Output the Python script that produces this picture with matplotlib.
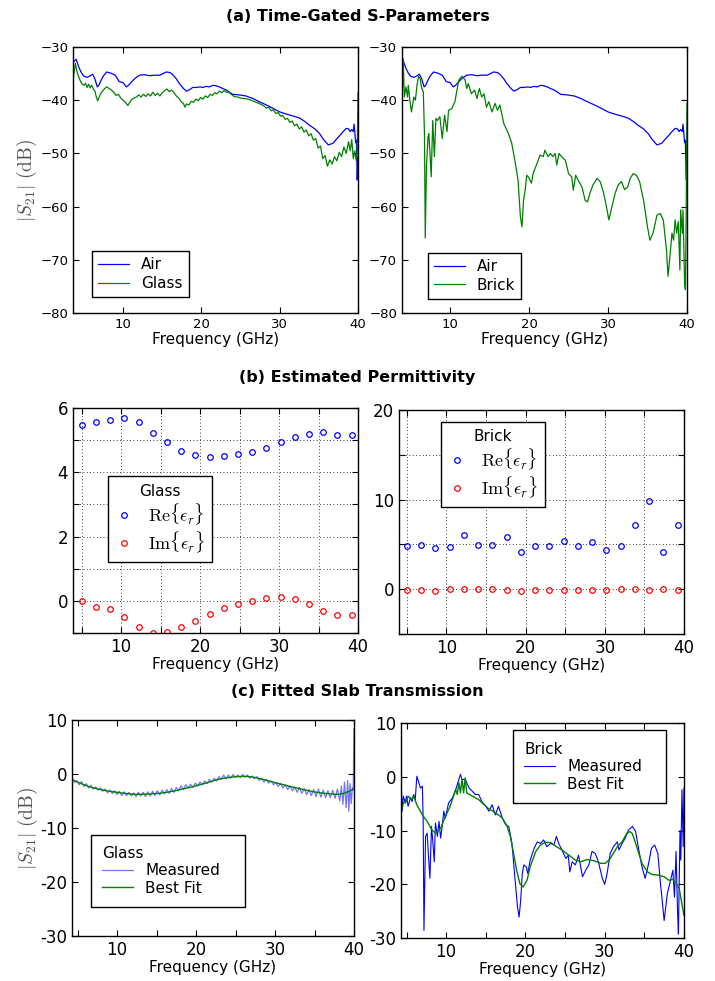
import matplotlib
matplotlib.use("Agg")
import matplotlib.pyplot as plt

plt.rcParams['font.family'] = ['DejaVu Sans']
plt.rcParams['mathtext.fontset'] = 'cm'
plt.rcParams['xtick.direction'] = 'in'
plt.rcParams['ytick.direction'] = 'in'
plt.rcParams['xtick.top'] = True
plt.rcParams['ytick.right'] = True

# ---------------- (a) Time-gated S-parameters ----------------
air_f = [3.6, 3.8, 4.0, 4.2, 4.4, 4.7, 5.0, 5.4, 5.7, 6.1, 6.4, 6.7, 6.9, 7.2, 7.5, 7.9, 8.4,
         9.0, 9.5, 10.0, 10.4, 10.7, 11.1, 11.6, 12.1, 12.7, 13.4, 14.0, 14.7, 15.1, 15.5,
         16.0, 16.4, 16.8, 17.2, 17.7, 18.1, 18.5, 18.9, 19.4, 19.8, 20.2, 20.6, 21.0,
         21.5, 21.9, 22.3, 22.7, 23.2, 23.6, 24.0, 24.8, 25.7, 26.6, 27.4, 28.3, 29.1,
         30.0, 30.6, 31.3, 32.0, 32.6, 33.2, 33.8, 34.5, 35.1, 35.6, 36.2, 36.8, 37.2,
         37.7, 38.1, 38.5, 38.8, 39.0, 39.2, 39.4, 39.5, 39.6, 39.7, 39.8, 39.9, 40.0]
air_db = [-33.0, -32.6, -32.3, -33.2, -34.0, -34.9, -35.5, -35.7, -35.5, -35.1, -36.0, -37.5,
          -37.2, -36.2, -35.4, -34.7, -34.9, -35.3, -36.5, -36.7, -37.5, -37.2, -36.5, -35.8,
          -35.3, -35.2, -35.4, -35.3, -35.3, -35.0, -34.7, -34.8, -35.3, -36.0, -36.9, -37.8,
          -38.3, -38.0, -37.6, -37.6, -37.5, -37.6, -37.4, -37.5, -37.2, -37.3, -37.5, -37.8,
          -38.1, -38.5, -38.9, -39.0, -39.2, -39.7, -40.3, -40.9, -41.5, -42.2, -42.5, -42.8,
          -43.1, -43.4, -44.0, -44.7, -45.4, -46.3, -47.4, -48.4, -48.1, -47.4, -46.6, -45.9,
          -45.3, -45.4, -45.9, -45.5, -45.9, -44.5, -46.2, -48.0, -47.5, -55.0, -50.6]

glass_f = [3.6, 3.75, 3.9, 4.1, 4.4, 4.7, 5.0, 5.2, 5.4, 5.6, 5.8, 6.0, 6.2, 6.4, 6.6, 6.75,
           6.9, 7.1, 7.3, 7.6, 7.9, 8.2, 8.5, 8.8, 9.1, 9.4, 9.7, 10.0, 10.3, 10.6, 10.8,
           11.1, 11.4, 11.7, 12.0, 12.3, 12.6, 12.9, 13.2, 13.5, 13.8, 14.1, 14.4, 14.7,
           15.0, 15.3, 15.6, 15.9, 16.2, 16.5, 16.8, 17.1, 17.4, 17.7, 17.9, 18.1, 18.4,
           18.7, 19.0, 19.3, 19.6, 19.9, 20.2, 20.5, 20.8, 21.1, 21.4, 21.7, 22.0, 22.3,
           22.6, 22.9, 23.2, 23.5, 23.8, 24.2, 24.6, 25.0, 25.5, 26.0, 26.5, 27.0, 27.5,
           28.0, 28.3, 28.6, 28.9, 29.2, 29.5, 29.8, 30.1, 30.4, 30.7, 31.0, 31.3, 31.6,
           31.9, 32.2, 32.5, 32.8, 33.1, 33.4, 33.7, 34.0, 34.3, 34.6, 34.9, 35.2, 35.5,
           35.8, 36.1, 36.4, 36.7, 37.0, 37.3, 37.6, 37.9, 38.2, 38.5, 38.8, 39.0, 39.2,
           39.4, 39.6, 39.75, 39.9, 40.0]
glass_db = [-36.6, -34.5, -33.1, -34.6, -35.9, -36.9, -37.2, -36.8, -37.6, -37.0, -37.7,
            -37.2, -37.9, -38.3, -39.5, -40.1, -39.6, -38.8, -38.4, -37.9, -37.5, -37.8,
            -38.1, -38.5, -39.1, -38.9, -39.6, -40.0, -40.4, -41.0, -40.5, -39.9, -39.6,
            -39.4, -39.0, -39.4, -38.9, -39.3, -38.8, -39.2, -38.5, -39.1, -38.7, -39.2,
            -38.6, -38.2, -37.9, -38.4, -38.1, -38.6, -39.2, -39.6, -40.2, -40.6, -41.3,
            -40.7, -40.9, -40.2, -40.4, -39.8, -40.1, -39.5, -39.8, -39.2, -39.5, -38.9,
            -39.1, -38.6, -38.8, -38.3, -38.6, -38.2, -38.5, -38.5, -38.9, -39.3, -39.4,
            -39.6, -39.7, -39.8, -40.1, -40.4, -40.7, -41.1, -41.5, -41.3, -42.0, -41.8,
            -42.5, -42.3, -43.0, -42.9, -43.6, -43.4, -44.2, -43.9, -44.8, -44.5, -45.4,
            -45.0, -46.0, -45.6, -46.7, -46.3, -47.5, -47.2, -49.0, -48.6, -51.0, -50.4,
            -52.4, -51.2, -52.0, -50.6, -51.4, -49.8, -50.6, -48.8, -50.0, -47.8, -49.5,
            -47.4, -51.0, -49.5, -51.3, -50.0, -38.5]

brick_f = [3.95, 4.05, 4.2, 4.4, 4.6, 4.7, 4.9, 5.1, 5.4, 5.6, 5.8, 6.0, 6.2, 6.4, 6.6,
           6.75, 6.85, 7.0, 7.2, 7.3, 7.45, 7.6, 7.8, 8.0, 8.2, 8.4, 8.7, 9.0, 9.3, 9.6,
           9.8, 10.2, 10.6, 11.1, 11.5, 11.9, 12.1, 12.3, 12.7, 13.1, 13.4, 13.7, 14.0,
           14.3, 14.6, 14.9, 15.3, 15.7, 16.0, 16.3, 16.8, 17.4, 17.8, 18.2, 18.6, 18.9,
           19.1, 19.3, 19.5, 19.7, 19.9, 20.3, 20.5, 21.0, 21.4, 21.8, 22.0, 22.4, 22.7,
           23.0, 23.3, 23.5, 23.8, 24.1, 24.6, 25.0, 25.4, 25.6, 25.9, 26.2, 26.7, 27.1,
           27.4, 27.7, 28.1, 28.6, 29.0, 29.4, 29.8, 30.1, 30.5, 30.9, 31.3, 31.7, 32.1,
           32.5, 32.8, 33.2, 33.6, 34.0, 34.5, 35.0, 35.3, 35.7, 36.2, 36.6, 37.0, 37.4,
           37.6, 37.8, 38.1, 38.3, 38.5, 38.7, 38.9, 39.1, 39.2, 39.4, 39.5, 39.7, 39.8,
           39.9, 40.0]
brick_db = [-38.8, -32.2, -39.4, -37.5, -39.4, -37.2, -40.0, -42.2, -39.4, -40.0, -37.2,
            -35.5, -35.9, -37.8, -38.4, -46.3, -65.9, -52.5, -46.9, -46.3, -50.0, -54.4,
            -43.8, -50.6, -43.4, -43.8, -43.1, -47.2, -42.8, -45.9, -41.9, -41.6, -40.3,
            -36.2, -35.5, -36.2, -37.8, -36.9, -38.8, -38.1, -39.7, -37.8, -39.4, -38.8,
            -41.3, -40.3, -42.2, -40.6, -41.9, -40.9, -44.4, -46.3, -48.1, -51.3, -55.0,
            -61.9, -63.8, -58.8, -56.9, -54.1, -54.4, -55.6, -53.8, -51.9, -50.3, -50.6,
            -49.4, -50.6, -50.0, -50.6, -50.0, -52.2, -50.0, -50.6, -51.3, -53.8, -54.4,
            -56.9, -54.1, -55.0, -56.3, -58.8, -59.1, -57.5, -55.9, -54.7, -55.3, -57.2,
            -60.0, -62.5, -60.0, -57.5, -55.9, -55.3, -56.8, -56.3, -54.7, -53.8, -54.1,
            -55.3, -58.8, -63.8, -66.3, -65.0, -61.6, -61.3, -62.5, -68.1, -73.1, -70.0,
            -65.0, -66.3, -62.5, -65.0, -62.8, -71.9, -60.6, -65.0, -60.6, -74.4, -75.6,
            -61.9, -40.6]

# ---------------- (b) Estimated permittivity ----------------
perm_f = [5.0, 6.8, 8.6, 10.4, 12.2, 14.0, 15.8, 17.6, 19.4, 21.2, 23.0, 24.8, 26.6,
          28.4, 30.2, 32.0, 33.8, 35.6, 37.4, 39.2]
glass_re = [5.48, 5.58, 5.63, 5.69, 5.58, 5.22, 4.93, 4.67, 4.55, 4.47, 4.51, 4.56, 4.63,
            4.76, 4.93, 5.10, 5.19, 5.26, 5.15, 5.17]
glass_im = [0.00, -0.18, -0.26, -0.50, -0.81, -0.99, -0.96, -0.81, -0.61, -0.42, -0.23,
            -0.10, 0.00, 0.08, 0.13, 0.07, -0.10, -0.31, -0.44, -0.44]
brick_re = [4.81, 4.93, 4.63, 4.70, 6.00, 4.89, 4.89, 5.78, 4.19, 4.78, 4.81, 5.41, 4.81,
            5.30, 4.37, 4.78, 7.15, 9.85, 4.11, 7.19]
brick_im = [-0.11, -0.11, -0.22, 0.00, 0.07, 0.04, 0.00, -0.04, -0.15, -0.04, -0.04,
            -0.04, -0.07, -0.04, -0.04, 0.00, 0.00, -0.04, 0.00, -0.04]

# ---------------- (c) Fitted slab transmission ----------------
gm_f = [4.3, 4.6, 4.9, 5.2, 5.5, 5.8, 6.1, 6.4, 6.7, 7.0, 7.3, 7.6, 7.9, 8.2, 8.5, 8.8, 9.1,
        9.4, 9.7, 10.0, 10.3, 10.6, 10.9, 11.2, 11.5, 11.8, 12.1, 12.4, 12.7, 13.0, 13.3,
        13.6, 13.9, 14.2, 14.5, 14.8, 15.1, 15.4, 15.7, 16.0, 16.3, 16.6, 16.9, 17.2,
        17.5, 17.8, 18.1, 18.4, 18.7, 19.0, 19.3, 19.6, 19.9, 20.2, 20.5, 20.8, 21.1,
        21.4, 21.7, 22.0, 22.3, 22.6, 22.9, 23.2, 23.5, 23.8, 24.1, 24.4, 24.7, 25.0,
        25.3, 25.6, 25.9, 26.2, 26.5, 26.8, 27.1, 27.4, 27.7, 28.0, 28.3, 28.6, 28.9,
        29.2, 29.5, 29.8, 30.1, 30.4, 30.7, 31.0, 31.3, 31.6, 31.9, 32.2, 32.5, 32.8,
        33.1, 33.4, 33.7, 34.0, 34.3, 34.6, 34.9, 35.2, 35.5, 35.8, 36.1, 36.4, 36.7,
        37.0, 37.3, 37.6, 37.9, 38.2, 38.4, 38.6, 38.8, 39.0, 39.2, 39.35, 39.5, 39.65,
        39.8, 39.9, 40.0]
gm_db = [-0.6, -1.6, -1.2, -2.0, -1.4, -2.3, -1.8, -2.6, -2.1, -2.8, -2.4, -3.0, -2.6,
         -3.2, -2.8, -3.5, -3.0, -3.6, -3.1, -3.8, -3.2, -4.0, -3.3, -4.0, -3.4, -4.1,
         -3.5, -4.2, -3.4, -4.1, -3.4, -4.2, -3.3, -4.1, -3.2, -4.0, -3.1, -3.9, -3.0,
         -3.7, -2.9, -3.6, -2.7, -3.4, -2.5, -3.1, -2.2, -2.9, -2.0, -2.6, -1.9, -2.5,
         -1.7, -2.2, -1.5, -2.0, -1.3, -1.8, -1.0, -1.5, -0.8, -1.3, -0.5, -1.0, -0.2,
         -0.9, -0.2, -0.8, -0.1, -0.6, -0.2, -0.7, -0.1, -0.6, -0.2, -0.8, -0.4, -0.9,
         -0.5, -1.2, -0.8, -1.5, -1.0, -1.7, -1.3, -2.0, -1.6, -2.3, -1.8, -2.6, -2.0,
         -2.9, -2.2, -3.1, -2.4, -3.4, -2.5, -3.6, -2.7, -3.8, -2.9, -4.0, -2.9, -4.2,
         -2.8, -4.3, -3.0, -4.4, -3.1, -4.4, -3.0, -4.5, -2.8, -5.0, -2.2, -5.6, -1.5,
         -6.2, -1.2, -6.9, -1.8, -5.5, -2.5, -3.0, 8.4]
gf_f = [4.3, 5.0, 5.8, 6.8, 7.9, 9.0, 10.0, 11.0, 12.1, 13.1, 14.2, 15.2, 16.3, 17.4,
        18.4, 19.5, 20.5, 21.6, 22.6, 23.7, 24.7, 25.4, 26.0, 26.7, 27.3, 28.1, 29.0,
        30.0, 31.1, 32.1, 33.2, 34.2, 35.3, 36.3, 37.4, 38.0, 38.7, 39.4, 40.0]
gf_db = [-1.06, -1.5, -2.0, -2.5, -2.9, -3.2, -3.4, -3.6, -3.75, -3.78, -3.7, -3.6, -3.4,
         -3.1, -2.75, -2.4, -2.0, -1.55, -1.06, -0.75, -0.56, -0.47, -0.44, -0.48, -0.6,
         -0.85, -1.2, -1.6, -2.0, -2.4, -2.75, -3.1, -3.4, -3.6, -3.75, -3.78, -3.6,
         -3.2, -2.75]

bm_f = [4.3, 4.45, 4.6, 4.85, 5.0, 5.2, 5.5, 5.7, 5.9, 6.1, 6.3, 6.5, 6.75, 7.0, 7.1, 7.2,
        7.4, 7.6, 7.8, 7.95, 8.15, 8.3, 8.5, 8.65, 8.9, 9.1, 9.3, 9.5, 9.7, 9.9, 10.3,
        10.8, 11.2, 11.6, 11.8, 12.0, 12.4, 12.9, 13.3, 13.7, 14.1, 14.5, 15.0, 15.4,
        15.8, 16.2, 16.6, 17.1, 17.5, 17.9, 18.3, 18.7, 19.0, 19.2, 19.4, 19.6, 19.8,
        20.1, 20.3, 20.6, 21.1, 21.5, 21.9, 22.3, 22.7, 23.2, 23.6, 23.9, 24.2, 24.6,
        25.1, 25.4, 25.6, 25.9, 26.3, 26.7, 27.2, 27.6, 28.0, 28.4, 28.8, 29.2, 29.7,
        30.0, 30.3, 30.7, 31.1, 31.6, 31.8, 32.2, 32.6, 33.0, 33.5, 33.9, 34.3, 34.7,
        35.1, 35.5, 35.9, 36.3, 36.7, 37.0, 37.5, 37.9, 38.2, 38.6, 38.8, 39.0, 39.2,
        39.3, 39.5, 39.6, 39.75, 39.9, 40.0]
bm_db = [0.0, -6.4, -3.6, -4.9, -3.6, -5.5, -3.9, -4.6, -3.3, -4.25, 0.1, -0.8, -2.1,
         -1.75, -8.0, -28.6, -11.1, -10.5, -15.5, -18.9, -9.25, -11.75, -15.8, -8.6,
         -11.1, -8.3, -11.4, -9.25, -6.4, -7.7, -4.9, -3.9, -2.4, -0.5, 0.45, -0.5,
         -0.5, -2.1, -2.7, -3.3, -3.3, -4.6, -5.5, -6.4, -5.2, -7.1, -5.5, -7.7, -8.9,
         -9.25, -12.4, -19.25, -24.25, -26.1, -23.0, -18.0, -16.4, -16.75, -18.0, -15.5,
         -13.3, -12.1, -12.4, -11.75, -13.0, -12.4, -12.7, -11.1, -12.4, -13.6, -15.2,
         -14.6, -17.7, -15.8, -16.4, -14.6, -18.6, -17.4, -16.4, -13.9, -14.25, -15.8,
         -18.9, -20.0, -18.0, -14.25, -13.0, -12.1, -13.6, -12.4, -11.4, -9.9, -9.25,
         -10.2, -13.6, -16.75, -18.9, -16.4, -13.3, -12.7, -14.25, -19.25, -26.75,
         -21.75, -19.9, -17.4, -22.4, -13.9, -25.5, -29.25, -10.0, -15.5, -2.4, -13.0,
         -2.1]
bf_f = [4.3, 4.6, 5.0, 5.2, 5.6, 5.9, 6.3, 7.0, 7.6, 8.2, 8.7, 9.3, 9.9, 10.5, 11.0,
        11.2, 11.4, 11.6, 11.8, 12.0, 12.2, 12.4, 12.6, 13.3, 14.1, 14.8, 15.4, 15.8,
        16.2, 16.6, 17.1, 17.7, 18.1, 18.5, 18.9, 19.3, 19.7, 20.2, 20.6, 21.3, 21.9,
        22.5, 23.2, 23.8, 24.6, 25.5, 26.3, 27.0, 27.8, 28.6, 29.5, 30.1, 30.7, 31.6,
        32.2, 32.8, 33.2, 33.5, 34.1, 34.7, 35.4, 36.0, 36.8, 37.5, 38.1, 38.6, 39.0,
        39.4, 40.0]
bf_db = [-6.4, -4.9, -4.6, -3.6, -4.25, -3.6, -5.2, -7.1, -8.3, -9.9, -10.5, -9.6, -7.4,
         -5.5, -3.3, -2.4, -3.3, -1.1, -3.0, -0.5, -3.0, -0.2, -3.0, -3.6, -4.25, -5.2,
         -6.0, -6.3, -6.75, -7.1, -7.7, -9.25, -11.1, -14.25, -17.4, -19.9, -20.5, -19.25,
         -16.75, -13.9, -12.7, -12.2, -12.25, -12.9, -13.6, -14.6, -15.5, -15.8, -15.4,
         -15.6, -16.1, -16.1, -15.2, -13.0, -12.1, -10.5, -10.2, -10.6, -13.3, -16.1,
         -17.7, -18.2, -18.3, -18.6, -19.25, -19.1, -19.9, -20.8, -25.8]

BLUE = '#0000ff'
GREEN = '#008000'
RED = '#ff0000'
YLAB_COLOR = '#555555'
GRID_LS = (0, (1, 3))

fig = plt.figure(figsize=(7.15, 9.81), dpi=100)


def style(ax, size):
    for s in ax.spines.values():
        s.set_linewidth(1.0)
    ax.tick_params(labelsize=size, length=4, width=0.8)


def leg(ax, anchor, title=None, talign='center', fontsize=11, spacing=0.3,
        mode=None, hlen=2.0, hpad=0.8, bpad=0.4):
    lg = ax.legend(loc='lower left', bbox_to_anchor=anchor, borderaxespad=0,
                   fancybox=False, edgecolor='black', framealpha=1,
                   fontsize=fontsize, title=title, title_fontsize=11,
                   handlelength=hlen, handletextpad=hpad, borderpad=bpad,
                   labelspacing=spacing, mode=mode)
    lg.get_frame().set_linewidth(1.0)
    if title is not None:
        lg._legend_box.align = talign
    return lg

# (a) left
ax1 = fig.add_axes([0.1021, 0.6809, 0.3986, 0.2712])
ax1.plot(air_f, air_db, color=BLUE, lw=0.9, label='Air')
ax1.plot(glass_f, glass_db, color=GREEN, lw=0.9, label='Glass')
ax1.set_xlim(3.6, 40)
ax1.set_ylim(-80, -30)
ax1.set_xticks([10, 20, 30, 40])
ax1.set_yticks([-80, -70, -60, -50, -40, -30])
ax1.set_xlabel('Frequency (GHz)', fontsize=11, labelpad=1)
ax1.set_ylabel(r'$|S_{21}|\ \mathrm{(dB)}$', fontsize=14, color=YLAB_COLOR,
               labelpad=1)
style(ax1, 9.5)
leg(ax1, (0.067, 0.06), spacing=0.25)

# (a) right
ax2 = fig.add_axes([0.5622, 0.6809, 0.3986, 0.2712])
ax2.plot(air_f, air_db, color=BLUE, lw=0.9, label='Air')
ax2.plot(brick_f, brick_db, color=GREEN, lw=0.9, label='Brick')
ax2.set_xlim(3.9, 40)
ax2.set_ylim(-80, -30)
ax2.set_xticks([10, 20, 30, 40])
ax2.set_yticks([-80, -70, -60, -50, -40, -30])
ax2.set_xlabel('Frequency (GHz)', fontsize=11, labelpad=1)
style(ax2, 9.5)
leg(ax2, (0.091, 0.053), spacing=0.25)

# (b) left
ax3 = fig.add_axes([0.1021, 0.3547, 0.3986, 0.2294])
ax3.plot(perm_f, glass_re, 'o', mfc='none', mec=BLUE, ms=4, mew=0.9,
         label=r'$\mathrm{Re}\{\epsilon_r\}$')
ax3.plot(perm_f, glass_im, 'o', mfc='none', mec=RED, ms=4, mew=0.9,
         label=r'$\mathrm{Im}\{\epsilon_r\}$')
ax3.set_xlim(3.9, 40)
ax3.set_ylim(-1, 6)
ax3.set_xticks([5, 10, 15, 20, 25, 30, 35, 40])
ax3.set_xticklabels(['', '10', '', '20', '', '30', '', '40'])
ax3.set_yticks([-1, 0, 1, 2, 3, 4, 5, 6])
ax3.set_yticklabels(['', '0', '', '2', '', '4', '', '6'])
ax3.grid(True, ls=GRID_LS, color='black', lw=0.6)
ax3.set_xlabel('Frequency (GHz)', fontsize=11, labelpad=1)
style(ax3, 12)
leg(ax3, (0.123, 0.316), title='Glass', fontsize=13, spacing=0.15,
    hlen=1.0, hpad=0.8, bpad=0.4)

# (b) right
ax4 = fig.add_axes([0.5580, 0.3537, 0.3986, 0.2283])
ax4.plot(perm_f, brick_re, 'o', mfc='none', mec=BLUE, ms=4, mew=0.9,
         label=r'$\mathrm{Re}\{\epsilon_r\}$')
ax4.plot(perm_f, brick_im, 'o', mfc='none', mec=RED, ms=4, mew=0.9,
         label=r'$\mathrm{Im}\{\epsilon_r\}$')
ax4.set_xlim(4.0, 40)
ax4.set_ylim(-5, 20)
ax4.set_xticks([5, 10, 15, 20, 25, 30, 35, 40])
ax4.set_xticklabels(['', '10', '', '20', '', '30', '', '40'])
ax4.set_yticks([-5, 0, 5, 10, 15, 20])
ax4.set_yticklabels(['', '0', '', '10', '', '20'])
ax4.grid(True, ls=GRID_LS, color='black', lw=0.6)
ax4.set_xlabel('Frequency (GHz)', fontsize=11, labelpad=1)
style(ax4, 12)
leg(ax4, (0.147, 0.567), title='Brick', fontsize=13, spacing=0.15,
    hlen=1.0, hpad=0.8, bpad=0.4)

# (c) left
ax5 = fig.add_axes([0.1007, 0.0459, 0.3944, 0.2202])
ax5.plot(gm_f, gm_db, color=BLUE, lw=0.9, alpha=0.55, label='Measured')
ax5.plot(gf_f, gf_db, color=GREEN, lw=1.0, label='Best Fit')
ax5.set_xlim(4.3, 40)
ax5.set_ylim(-30, 10)
ax5.set_xticks([5, 10, 15, 20, 25, 30, 35, 40])
ax5.set_xticklabels(['', '10', '', '20', '', '30', '', '40'])
ax5.set_yticks([-30, -20, -10, 0, 10])
ax5.set_yticklabels(['-30', '-20', '-10', '0', '10'])
ax5.set_xlabel('Frequency (GHz)', fontsize=11, labelpad=1)
ax5.set_ylabel(r'$|S_{21}|\ \mathrm{(dB)}$', fontsize=14, color=YLAB_COLOR,
               labelpad=0)
style(ax5, 12)
leg(ax5, (0.067, 0.134, 0.546, 0.3), title='Glass', talign='left',
    spacing=0.15, mode='expand', bpad=0.75)

# (c) right
ax6 = fig.add_axes([0.5608, 0.0438, 0.3958, 0.2192])
ax6.plot(bm_f, bm_db, color=BLUE, lw=0.8, label='Measured')
ax6.plot(bf_f, bf_db, color=GREEN, lw=1.0, label='Best Fit')
ax6.set_xlim(4.3, 40)
ax6.set_ylim(-30, 10)
ax6.set_xticks([5, 10, 15, 20, 25, 30, 35, 40])
ax6.set_xticklabels(['', '10', '', '20', '', '30', '', '40'])
ax6.set_yticks([-30, -20, -10, 0, 10])
ax6.set_yticklabels(['-30', '-20', '-10', '0', '10'])
ax6.set_xlabel('Frequency (GHz)', fontsize=11, labelpad=1)
style(ax6, 12)
leg(ax6, (0.396, 0.628, 0.541, 0.3), title='Brick', talign='left',
    spacing=0.15, mode='expand', bpad=0.75)

fig.text(0.5, 0.983, '(a) Time-Gated S-Parameters', ha='center', va='center',
         fontsize=11.5, fontweight='bold')
fig.text(0.5, 0.615, '(b) Estimated Permittivity', ha='center', va='center',
         fontsize=11.5, fontweight='bold')
fig.text(0.5, 0.295, '(c) Fitted Slab Transmission', ha='center', va='center',
         fontsize=11.5, fontweight='bold')

fig.savefig('out.png', dpi=100)
